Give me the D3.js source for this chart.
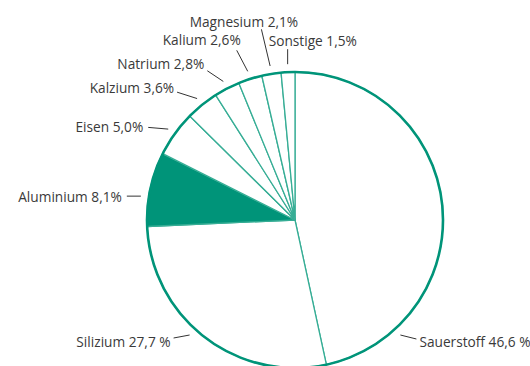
<!DOCTYPE html>
<html>
<head>
<meta charset="utf-8">
<script src="https://cdn.jsdelivr.net/npm/d3@7"></script>
<style>
  html, body { margin: 0; padding: 0; background: #fff; }
  svg { display: block; }
  text { font-family: "Open Sans", "Noto Sans", sans-serif; font-size: 13.7px; fill: #3a3a3a; }
</style>
</head>
<body>
<svg id="chart" width="530" height="366"></svg>
<script>
// Elements of the Earth's crust, share by mass (percent), clockwise from 12 o'clock
const elements = ["Sauerstoff", "Silizium", "Aluminium", "Eisen", "Kalzium", "Natrium", "Kalium", "Magnesium", "Sonstige"];
const shares   = [46.6, 27.7, 8.1, 5.0, 3.6, 2.8, 2.6, 2.1, 1.5];
const labels   = ["Sauerstoff 46,6 %", "Silizium 27,7 %", "Aluminium 8,1%", "Eisen 5,0%", "Kalzium 3,6%",
                  "Natrium 2,8%", "Kalium 2,6%", "Magnesium 2,1%", "Sonstige 1,5%"];
const highlighted = "Aluminium";

// Leader-line layout: angle (deg, clockwise from top) where the leader starts,
// leader offset, text anchor and text offset from the leader's outer end.
const leaderAngle = [137.5, 222.5, 278.8, null, null, null, null, null, null];
const leaderDx    = [16, -16, -14, -20, -20, -16, -11, -8.7, 0];
const leaderDy    = [4, 3, 0, -1.7, -6.4, -10.7, -21, -36.7, -15];
const textAnchor  = ["start", "end", "end", "end", "end", "end", "end", "middle", "start"];
const textDx      = [3, -3, -5, -5, -3, -3, 4, -17.5, -19];
const textDy      = [8, 9, 5.4, 4.7, 1, -2, -5, -2.3, -3];

const cx = 295, cy = 220, R = 148, leaderR = 156;
const green = "#009479";

const data = elements.map((name, i) => ({ name, value: shares[i], label: labels[i], i }));

const svg = d3.select("#chart");
const g = svg.append("g").attr("transform", `translate(${cx},${cy})`);

const pie = d3.pie().value(d => d.value).sort(null);
const arcs = pie(data);
const arc = d3.arc().innerRadius(0).outerRadius(R);

// slices
g.selectAll("path.slice")
  .data(arcs)
  .join("path")
  .attr("class", "slice")
  .attr("d", arc)
  .attr("fill", d => d.data.name === highlighted ? green : "#fff")
  .attr("stroke", "#36ad95")
  .attr("stroke-width", 1.3)
  .attr("stroke-linejoin", "round");

// outer ring
g.append("circle")
  .attr("r", R)
  .attr("fill", "none")
  .attr("stroke", green)
  .attr("stroke-width", 2.6);

// leaders and labels
const toXY = (deg, r) => {
  const a = deg * Math.PI / 180;
  return [r * Math.sin(a), -r * Math.cos(a)];
};

arcs.forEach(d => {
  const i = d.data.i;
  const mid = (d.startAngle + d.endAngle) / 2 * 180 / Math.PI;
  const ang = leaderAngle[i] != null ? leaderAngle[i] : mid;
  const [x1, y1] = toXY(ang, leaderR);
  const x2 = x1 + leaderDx[i], y2 = y1 + leaderDy[i];
  g.append("line")
    .attr("x1", x1).attr("y1", y1)
    .attr("x2", x2).attr("y2", y2)
    .attr("stroke", "#333")
    .attr("stroke-width", 1);
  g.append("text")
    .attr("x", x2 + textDx[i])
    .attr("y", y2 + textDy[i])
    .attr("text-anchor", textAnchor[i])
    .text(d.data.label);
});
</script>
</body>
</html>
